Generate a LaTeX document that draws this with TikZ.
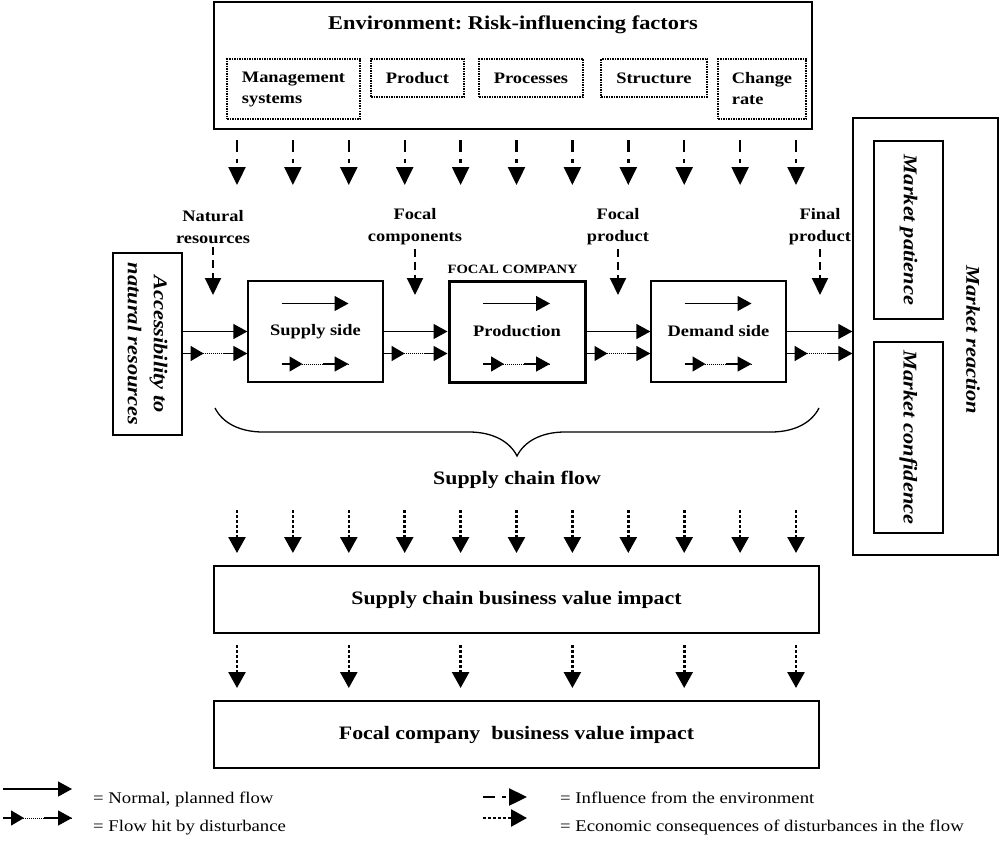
\documentclass[tikz,border=0pt]{standalone}
\usepackage{fontspec}
\setmainfont{Liberation Serif}[FakeStretch=1.15]
\usetikzlibrary{arrows.meta,decorations.pathreplacing,decorations.markings}

\begin{document}
\frenchspacing
\begin{tikzpicture}[x=1pt,y=-1pt,
    box/.style={draw,rectangle,line width=1.3pt,inner sep=0pt},
    dot box/.style={draw,rectangle,line width=1.5pt,dash pattern=on 1.5pt off 1pt,inner sep=0pt,
                    align=left,font=\bfseries\fontsize{16}{21}\selectfont},
    label node/.style={align=center,font=\bfseries\fontsize{16}{22}\selectfont},
    big label/.style={font=\bfseries\fontsize{19}{22}\selectfont},
    side label/.style={rotate=-90,align=center,font=\bfseries\itshape\fontsize{19.5}{26}\selectfont},
    legend/.style={anchor=base west,inner sep=0pt,font=\fontsize{16.3}{18}\selectfont},
    flow/.style={line width=1.3pt,-{Triangle[width=15pt,length=14pt]}},
    hit flow/.style={flow,dash pattern=on 8pt off 33pt on 80pt,
      postaction={draw,arrows=-,line width=0.9pt,dash pattern=on 1pt off 1pt},
      postaction={decorate,decoration={markings,
        mark=at position 21pt with {\arrow{Triangle[width=15pt,length=13pt]}}}}},
    env arrow/.style={line width=2.4pt,dash pattern=on 12pt off 7pt on 4pt off 40pt,
      -{Triangle[width=17pt,length=18pt]}},
    in arrow/.style={line width=2pt,dash pattern=on 8pt off 5pt,
      -{Triangle[width=16pt,length=17pt]}},
    econ arrow/.style={line width=2.6pt,dash pattern=on 2.5pt off 2.5pt,
      -{Triangle[width=17pt,length=16pt]}}]

  \useasboundingbox (0,0) rectangle (1001,843);

  % environment
  \node[box,line width=1.5pt,minimum width=598pt,minimum height=127pt] (env) at (513,65.5) {};
  \node[font=\bfseries\fontsize{19.5}{22}\selectfont] (envtitle) at (513,25) {Environment: Risk-influencing factors};
  \node[dot box,minimum width=133pt,minimum height=60pt] (mgmt) at (293.5,89) {Management\\systems};
  \node[dot box,minimum width=93pt,minimum height=38pt] (product) at (417.5,78) {Product};
  \node[dot box,minimum width=104pt,minimum height=38pt] (processes) at (531,78) {Processes};
  \node[dot box,minimum width=106pt,minimum height=38pt] (structure) at (654,78) {Structure};
  \node[dot box,minimum width=88pt,minimum height=60pt] (change) at (762,89) {Change\\rate};

  \foreach \i in {0,...,10} {
    \coordinate (et\i) at ({237+55.9*\i},140);
    \coordinate (eb\i) at ({237+55.9*\i},185);
    \draw[env arrow] (et\i) -- (eb\i);
  }

  % supply chain
  \node[label node] (natres) at (213,227) {Natural\\resources};
  \node[label node] (focomp) at (415,227) {Focal\\components};
  \node[label node] (foprod) at (618,227) {Focal\\product};
  \node[label node] (finprod) at (820,227) {Final\\product};
  \coordinate (natin) at (213,295);
  \coordinate (focompin) at (415,295);
  \coordinate (foprodin) at (618,295);
  \coordinate (finprodin) at (820,295);
  \draw[in arrow] (natres) -- (natin);
  \draw[in arrow] (focomp) -- (focompin);
  \draw[in arrow] (foprod) -- (foprodin);
  \draw[in arrow] (finprod) -- (finprodin);

  \node[box,minimum width=69pt,minimum height=182pt] (access) at (147.5,344) {};
  \node[side label] (accesstext) at (access) {Accessibility to\\natural resources};
  \node[box,label node,minimum width=135pt,minimum height=101pt] (supply) at (315.5,331.5) {Supply side};
  \node[box,label node,line width=3pt,minimum width=136pt,minimum height=101pt] (prod) at (517,331.5) {Production};
  \node[box,label node,minimum width=135pt,minimum height=101pt] (demand) at (718.5,331.5) {Demand side};
  \node[anchor=base west,inner sep=0pt,font=\bfseries\fontsize{12.7}{14}\selectfont] (focal) at ([yshift=6pt]prod.north west) {FOCAL COMPANY};

  \node[box,minimum width=145pt,minimum height=437pt] (market) at (925.5,336.5) {};
  \node[box,minimum width=69pt,minimum height=178pt] (patience) at (908.5,230) {};
  \node[side label] (patiencetext) at (patience) {Market patience};
  \node[box,minimum width=69pt,minimum height=191pt] (confidence) at (908.5,437.5) {};
  \node[side label] (confidencetext) at (confidence) {Market confidence};
  \node[side label] (reaction) at (973,340) {Market reaction};

  \coordinate (hit1) at ([yshift=-22pt]supply.west);
  \draw[flow] (access.east |- supply.west) -- (supply.west);
  \draw[hit flow] (access.east |- hit1) -- (hit1);
  \draw[flow] (supply.east) -- (prod.west);
  \draw[hit flow] ([yshift=-22pt]supply.east) -- ([yshift=-22pt]prod.west);
  \draw[flow] (prod.east) -- (demand.west);
  \draw[hit flow] ([yshift=-22pt]prod.east) -- ([yshift=-22pt]demand.west);
  \draw[flow] (demand.east) -- (market.west |- demand.east);
  \draw[hit flow] ([yshift=-22pt]demand.east) -- (market.west |- hit1);

  \foreach \b in {supply,prod,demand} {
    \draw[flow] ([shift={(-34pt,28pt)}]\b.center) -- ([shift={(33pt,28pt)}]\b.center);
    \draw[hit flow] ([shift={(-34pt,-32.5pt)}]\b.center) -- ([shift={(33pt,-32.5pt)}]\b.center);
  }

  \coordinate (bl) at (215,408);
  \coordinate (br) at (819,408);
  \draw[line width=1.3pt,decorate,decoration={brace,mirror,amplitude=48pt}] (bl) -- (br);
  \node[big label] (scflow) at (517,480) {Supply chain flow};

  % business value
  \foreach \i in {0,...,10} {
    \coordinate (ct\i) at ({237+55.9*\i},510);
    \coordinate (cb\i) at ({237+55.9*\i},553);
    \draw[econ arrow] (ct\i) -- (cb\i);
  }
  \node[box,big label,minimum width=605pt,minimum height=67pt] (scvalue) at (516.5,599.5) {Supply chain business value impact};
  \foreach \i in {0,2,...,10} {
    \coordinate (vt\i) at ({237+55.9*\i},645);
    \coordinate (vb\i) at ({237+55.9*\i},688);
    \draw[econ arrow] (vt\i) -- (vb\i);
  }
  \node[box,big label,minimum width=605pt,minimum height=67pt] (fcvalue) at (516.5,734.5) {Focal company\ \ business value impact};

  % legend
  \coordinate (l1a) at (3,789);   \coordinate (l1b) at (72,789);
  \coordinate (l2a) at (3,818);   \coordinate (l2b) at (72,818);
  \coordinate (l3a) at (483,797); \coordinate (l3b) at (527,797);
  \coordinate (l4a) at (483,818); \coordinate (l4b) at (527,818);
  \draw[flow] (l1a) -- (l1b);
  \draw[hit flow] (l2a) -- (l2b);
  \draw[env arrow] (l3a) -- (l3b);
  \draw[econ arrow] (l4a) -- (l4b);
  \node[legend] (l1) at (93,803) {= Normal, planned flow};
  \node[legend] (l2) at (93,831) {= Flow hit by disturbance};
  \node[legend] (l3) at (560,803) {= Influence from the environment};
  \node[legend] (l4) at (560,831) {= Economic consequences of disturbances in the flow};
\end{tikzpicture}
\end{document}
